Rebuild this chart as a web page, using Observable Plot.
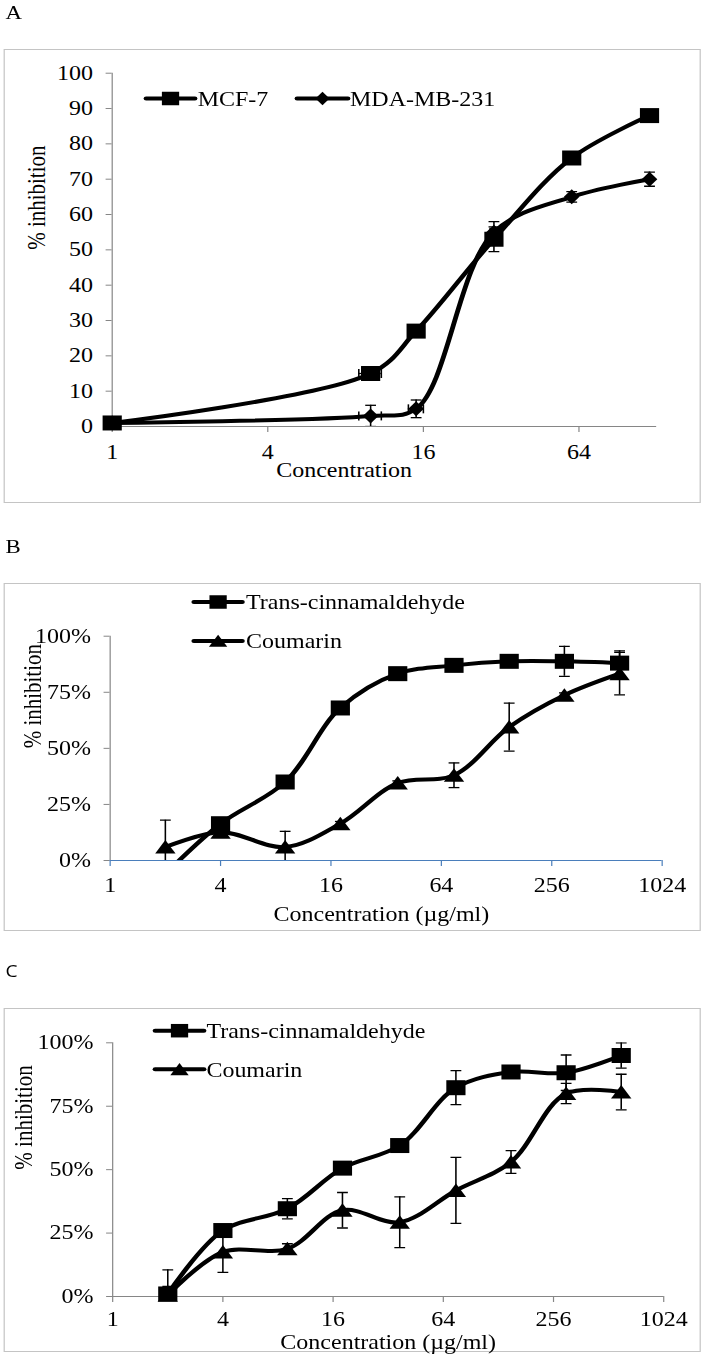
<!DOCTYPE html>
<html>
<head>
<meta charset="utf-8">
<script src="https://cdn.jsdelivr.net/npm/d3@7"></script>
<script src="https://cdn.jsdelivr.net/npm/@observablehq/plot@0.6"></script>
<style>
  html, body { margin: 0; padding: 0; background: #fff; }
  #fig { position: absolute; left: 0; top: 0; width: 585px; height: 1358px;
         transform: scaleX(1.2); transform-origin: 0 0;
         font-family: "Liberation Serif", "Times New Roman", serif; }
  .panel { position: absolute; left: 2.5px; width: 581px; box-sizing: border-box;
           border: 1px solid #c4c4c4; background: #fff; }
  .panel svg { display: block; }
  #overlay { position: absolute; left: 0; top: 0; overflow: visible; pointer-events: none; }
</style>
</head>
<body>
<div id="fig">
  <div class="panel" id="pA" style="top:49px;height:454px"></div>
  <div class="panel" id="pB" style="top:583px;height:348px"></div>
  <div class="panel" id="pC" style="top:1008px;height:344px"></div>
</div>
<script>
// ---------- data ----------
// Panel A: breast cancer cell lines
const concA = [1, 10, 15, 30, 60, 120];
const mcf7 = [1, 15, 27, 53, 76, 88];
const mcf7Err = [0.5, 1, 1, 3.5, 1, 1];
const mda231 = [1, 3, 5, 55, 65, 70];
const mda231Err = [0.5, 3, 2.5, 3, 1.5, 2];
const concAErr = [0, 1, 1, 1, 1, 1];
const xTicksA = [1, 4, 16, 64];
const yTicksA = [0, 10, 20, 30, 40, 50, 60, 70, 80, 90, 100];

// Panels B and C: Trans-cinnamaldehyde vs Coumarin (µg/ml)
const concBC = [2, 4, 9, 18, 37, 75, 150, 300, 600];
const cinnB = [-6, 16.4, 35, 68, 83.3, 87, 88.8, 88.8, 88];
const cinnBErr = [0, 1, 1, 1, 1, 1, 1, 6.7, 5.5];
const coumB = [6, 12.6, 6, 16.4, 34.5, 38, 59.5, 73.7, 83.3];
const coumBErr = [12, 1, 7, 1, 1, 5.5, 10.7, 1, 9.5];
const cinnC = [1, 26, 34.6, 50.6, 59.5, 82.3, 88.5, 88.2, 95];
const cinnCErr = [3, 2, 4, 1, 1, 6.7, 1, 7, 5];
const coumC = [0.5, 17.5, 18.8, 34, 29.3, 41.8, 53, 80, 80.6];
const coumCErr = [10, 8, 2, 7, 10, 13, 4.5, 4, 7];
const xTicksBC = [1, 4, 16, 64, 256, 1024];
const yTicksBC = [0, 25, 50, 75, 100];

const panelLetters = ["A", "B", "C"];
const yTitle = "% inhibition";
const xTitleA = "Concentration";
const xTitleBC = "Concentration (µg/ml)";
const seriesA = ["MCF-7", "MDA-MB-231"];
const seriesBC = ["Trans-cinnamaldehyde", "Coumarin"];

// ---------- symbols (Excel-like markers) ----------
const squareSym = {draw(c) { c.moveTo(-8, -7.5); c.lineTo(8, -7.5); c.lineTo(8, 7.5); c.lineTo(-8, 7.5); c.closePath(); }};
const diamondSym = {draw(c) { c.moveTo(0, -7.5); c.lineTo(6.5, 0); c.lineTo(0, 7.5); c.lineTo(-6.5, 0); c.closePath(); }};
const triangleSym = {draw(c) { c.moveTo(0, -7); c.lineTo(8.5, 6.5); c.lineTo(-8.5, 6.5); c.closePath(); }};
const hCap = {draw(c) { c.moveTo(-4.5, 0); c.lineTo(4.5, 0); }};
const vCap = {draw(c) { c.moveTo(0, -4.5); c.lineTo(0, 4.5); }};

const FONT = "'Liberation Serif', 'Times New Roman', serif";
const GRAY = "#868686";

function makePanel(cfg) {
  const marks = [];
  // axis lines
  marks.push(Plot.ruleY([0], {stroke: cfg.xAxisColor, strokeWidth: 1}));
  marks.push(Plot.ruleX([cfg.xDomain[0]], {stroke: GRAY, strokeWidth: 1}));
  marks.push(Plot.axisY({ticks: cfg.yTicks, tickSize: 5, tickPadding: 11, stroke: GRAY, fill: "black",
    tickFormat: cfg.yFormat, label: null}));
  marks.push(Plot.axisX({ticks: cfg.xTicks, tickSize: 6, tickPadding: cfg.xPad, stroke: cfg.xAxisColor, fill: "black",
    tickFormat: d => String(d), label: null}));
  // titles
  marks.push(Plot.text([yTitle], {frameAnchor: "left", rotate: -90, dx: cfg.yTitleDx, lineAnchor: "middle",
    fontSize: 21, fill: "black"}));
  marks.push(Plot.text([cfg.xTitle], {frameAnchor: "bottom", dx: cfg.xTitleDx, dy: cfg.xTitleDy, lineAnchor: "middle",
    fontSize: 20, fill: "black"}));

  const allRows = cfg.series.map(s => s.values.map((v, i) => ({
    name: s.name, conc: cfg.conc[i], v, err: s.err[i], xerr: s.xerr ? s.xerr[i] : 0
  })));
  // lines
  allRows.forEach(rows => marks.push(Plot.line(rows, {x: "conc", y: "v", curve: "catmull-rom",
    stroke: "black", strokeWidth: 4, clip: true})));
  // error bars
  allRows.forEach(rows => {
    const e = rows.filter(d => d.err > 0);
    marks.push(Plot.ruleX(e, {x: "conc", y1: d => d.v - d.err, y2: d => d.v + d.err,
      stroke: "black", strokeWidth: 1.3, clip: true}));
    marks.push(Plot.dot(e, {x: "conc", y: d => d.v + d.err, symbol: hCap, fill: "none", stroke: "black", strokeWidth: 1.3, clip: true}));
    marks.push(Plot.dot(e, {x: "conc", y: d => d.v - d.err, symbol: hCap, fill: "none", stroke: "black", strokeWidth: 1.3, clip: true}));
    const xe = rows.filter(d => d.xerr > 0);
    if (xe.length) {
      marks.push(Plot.ruleY(xe, {y: "v", x1: d => d.conc - d.xerr, x2: d => d.conc + d.xerr,
        stroke: "black", strokeWidth: 1.3}));
      marks.push(Plot.dot(xe, {y: "v", x: d => d.conc - d.xerr, symbol: vCap, fill: "none", stroke: "black", strokeWidth: 1.3}));
      marks.push(Plot.dot(xe, {y: "v", x: d => d.conc + d.xerr, symbol: vCap, fill: "none", stroke: "black", strokeWidth: 1.3}));
    }
  });
  // markers
  allRows.forEach((rows, k) => marks.push(Plot.dot(rows.filter(d => d.v >= 0),
    {x: "conc", y: "v", symbol: cfg.series[k].symbol, fill: "black", stroke: "none"})));

  const svg = Plot.plot({
    width: 579, height: cfg.height,
    marginLeft: cfg.m[0], marginRight: cfg.m[1], marginTop: cfg.m[2], marginBottom: cfg.m[3],
    x: {type: "log", base: 2, domain: cfg.xDomain},
    y: {domain: [0, 100]},
    style: {fontFamily: FONT, fontSize: "20px", color: "black", background: "transparent", overflow: "visible"},
    marks
  });
  document.getElementById(cfg.id).appendChild(svg);
}

makePanel({
  id: "pA", height: 452, m: [89, 36.2, 22.7, 76],
  xDomain: [1, 128], xTicks: xTicksA, yTicks: yTicksA, yFormat: d => String(d),
  xAxisColor: GRAY, xPad: 12, xTitle: xTitleA, xTitleDx: -33.6, xTitleDy: 44, yTitleDx: -62.5,
  conc: concA,
  series: [
    {name: seriesA[0], values: mcf7, err: mcf7Err, xerr: concAErr, symbol: squareSym},
    {name: seriesA[1], values: mda231, err: mda231Err, xerr: concAErr, symbol: diamondSym}
  ]
});
makePanel({
  id: "pB", height: 346, m: [87.3, 31.7, 51.7, 70],
  xDomain: [1, 1024], xTicks: xTicksBC, yTicks: yTicksBC, yFormat: d => d + "%",
  xAxisColor: "#4a7ebb", xPad: 11.5, xTitle: xTitleBC, xTitleDx: -4, xTitleDy: 54, yTitleDx: -64.6,
  conc: concBC,
  series: [
    {name: seriesBC[0], values: cinnB, err: cinnBErr, symbol: squareSym},
    {name: seriesBC[1], values: coumB, err: coumBErr, symbol: triangleSym}
  ]
});
makePanel({
  id: "pC", height: 342, m: [89.4, 30.4, 33.3, 55],
  xDomain: [1, 1024], xTicks: xTicksBC, yTicks: yTicksBC, yFormat: d => d + "%",
  xAxisColor: GRAY, xPad: 9, xTitle: xTitleBC, xTitleDx: 0, xTitleDy: 46.5, yTitleDx: -74.2,
  conc: concBC,
  series: [
    {name: seriesBC[0], values: cinnC, err: cinnCErr, symbol: squareSym},
    {name: seriesBC[1], values: coumC, err: coumCErr, symbol: triangleSym}
  ]
});

// ---------- overlay: panel letters + legends ----------
const ov = d3.select("#fig").append("svg").attr("id", "overlay").attr("width", 585).attr("height", 1358);
const letterSpec = [
  {t: panelLetters[0], x: 4.5, y: 19.3, font: FONT, size: 19},
  {t: panelLetters[1], x: 4.5, y: 552.7, font: FONT, size: 19},
  {t: panelLetters[2], x: 4.6, y: 977.3, font: "Open Sans, DejaVu Sans, sans-serif", size: 16}
];
ov.selectAll("text.letter").data(letterSpec).join("text").attr("class", "letter")
  .attr("x", d => d.x).attr("y", d => d.y).style("font-family", d => d.font).style("font-size", d => d.size + "px")
  .attr("fill", "black").text(d => d.t);

function symPath(sym) { const p = d3.path(); sym.draw(p, 0); return p.toString(); }
const legendSpec = [
  {label: seriesA[0], sym: squareSym, x1: 121.7, x2: 162.5, tx: 164.7, y: 98.5},
  {label: seriesA[1], sym: diamondSym, x1: 247.5, x2: 290, tx: 291.7, y: 98.5},
  {label: seriesBC[0], sym: squareSym, x1: 161.5, x2: 202, tx: 205, y: 602},
  {label: seriesBC[1], sym: triangleSym, x1: 161.5, x2: 202, tx: 205, y: 641},
  {label: seriesBC[0], sym: squareSym, x1: 129.2, x2: 170, tx: 172, y: 1030.7},
  {label: seriesBC[1], sym: triangleSym, x1: 129.2, x2: 170, tx: 172, y: 1069.3}
];
const lg = ov.selectAll("g.leg").data(legendSpec).join("g").attr("class", "leg");
lg.append("line").attr("x1", d => d.x1).attr("x2", d => d.x2).attr("y1", d => d.y).attr("y2", d => d.y)
  .attr("stroke", "black").attr("stroke-width", 4).attr("stroke-linecap", "round");
lg.append("path").attr("d", d => symPath(d.sym))
  .attr("transform", d => `translate(${(d.x1 + d.x2) / 2},${d.y}) scale(0.9)`).attr("fill", "black");
lg.append("text").attr("x", d => d.tx).attr("y", d => d.y + 7.5).style("font-family", FONT).style("font-size", "20px")
  .attr("fill", "black").text(d => d.label);
</script>
</body>
</html>
